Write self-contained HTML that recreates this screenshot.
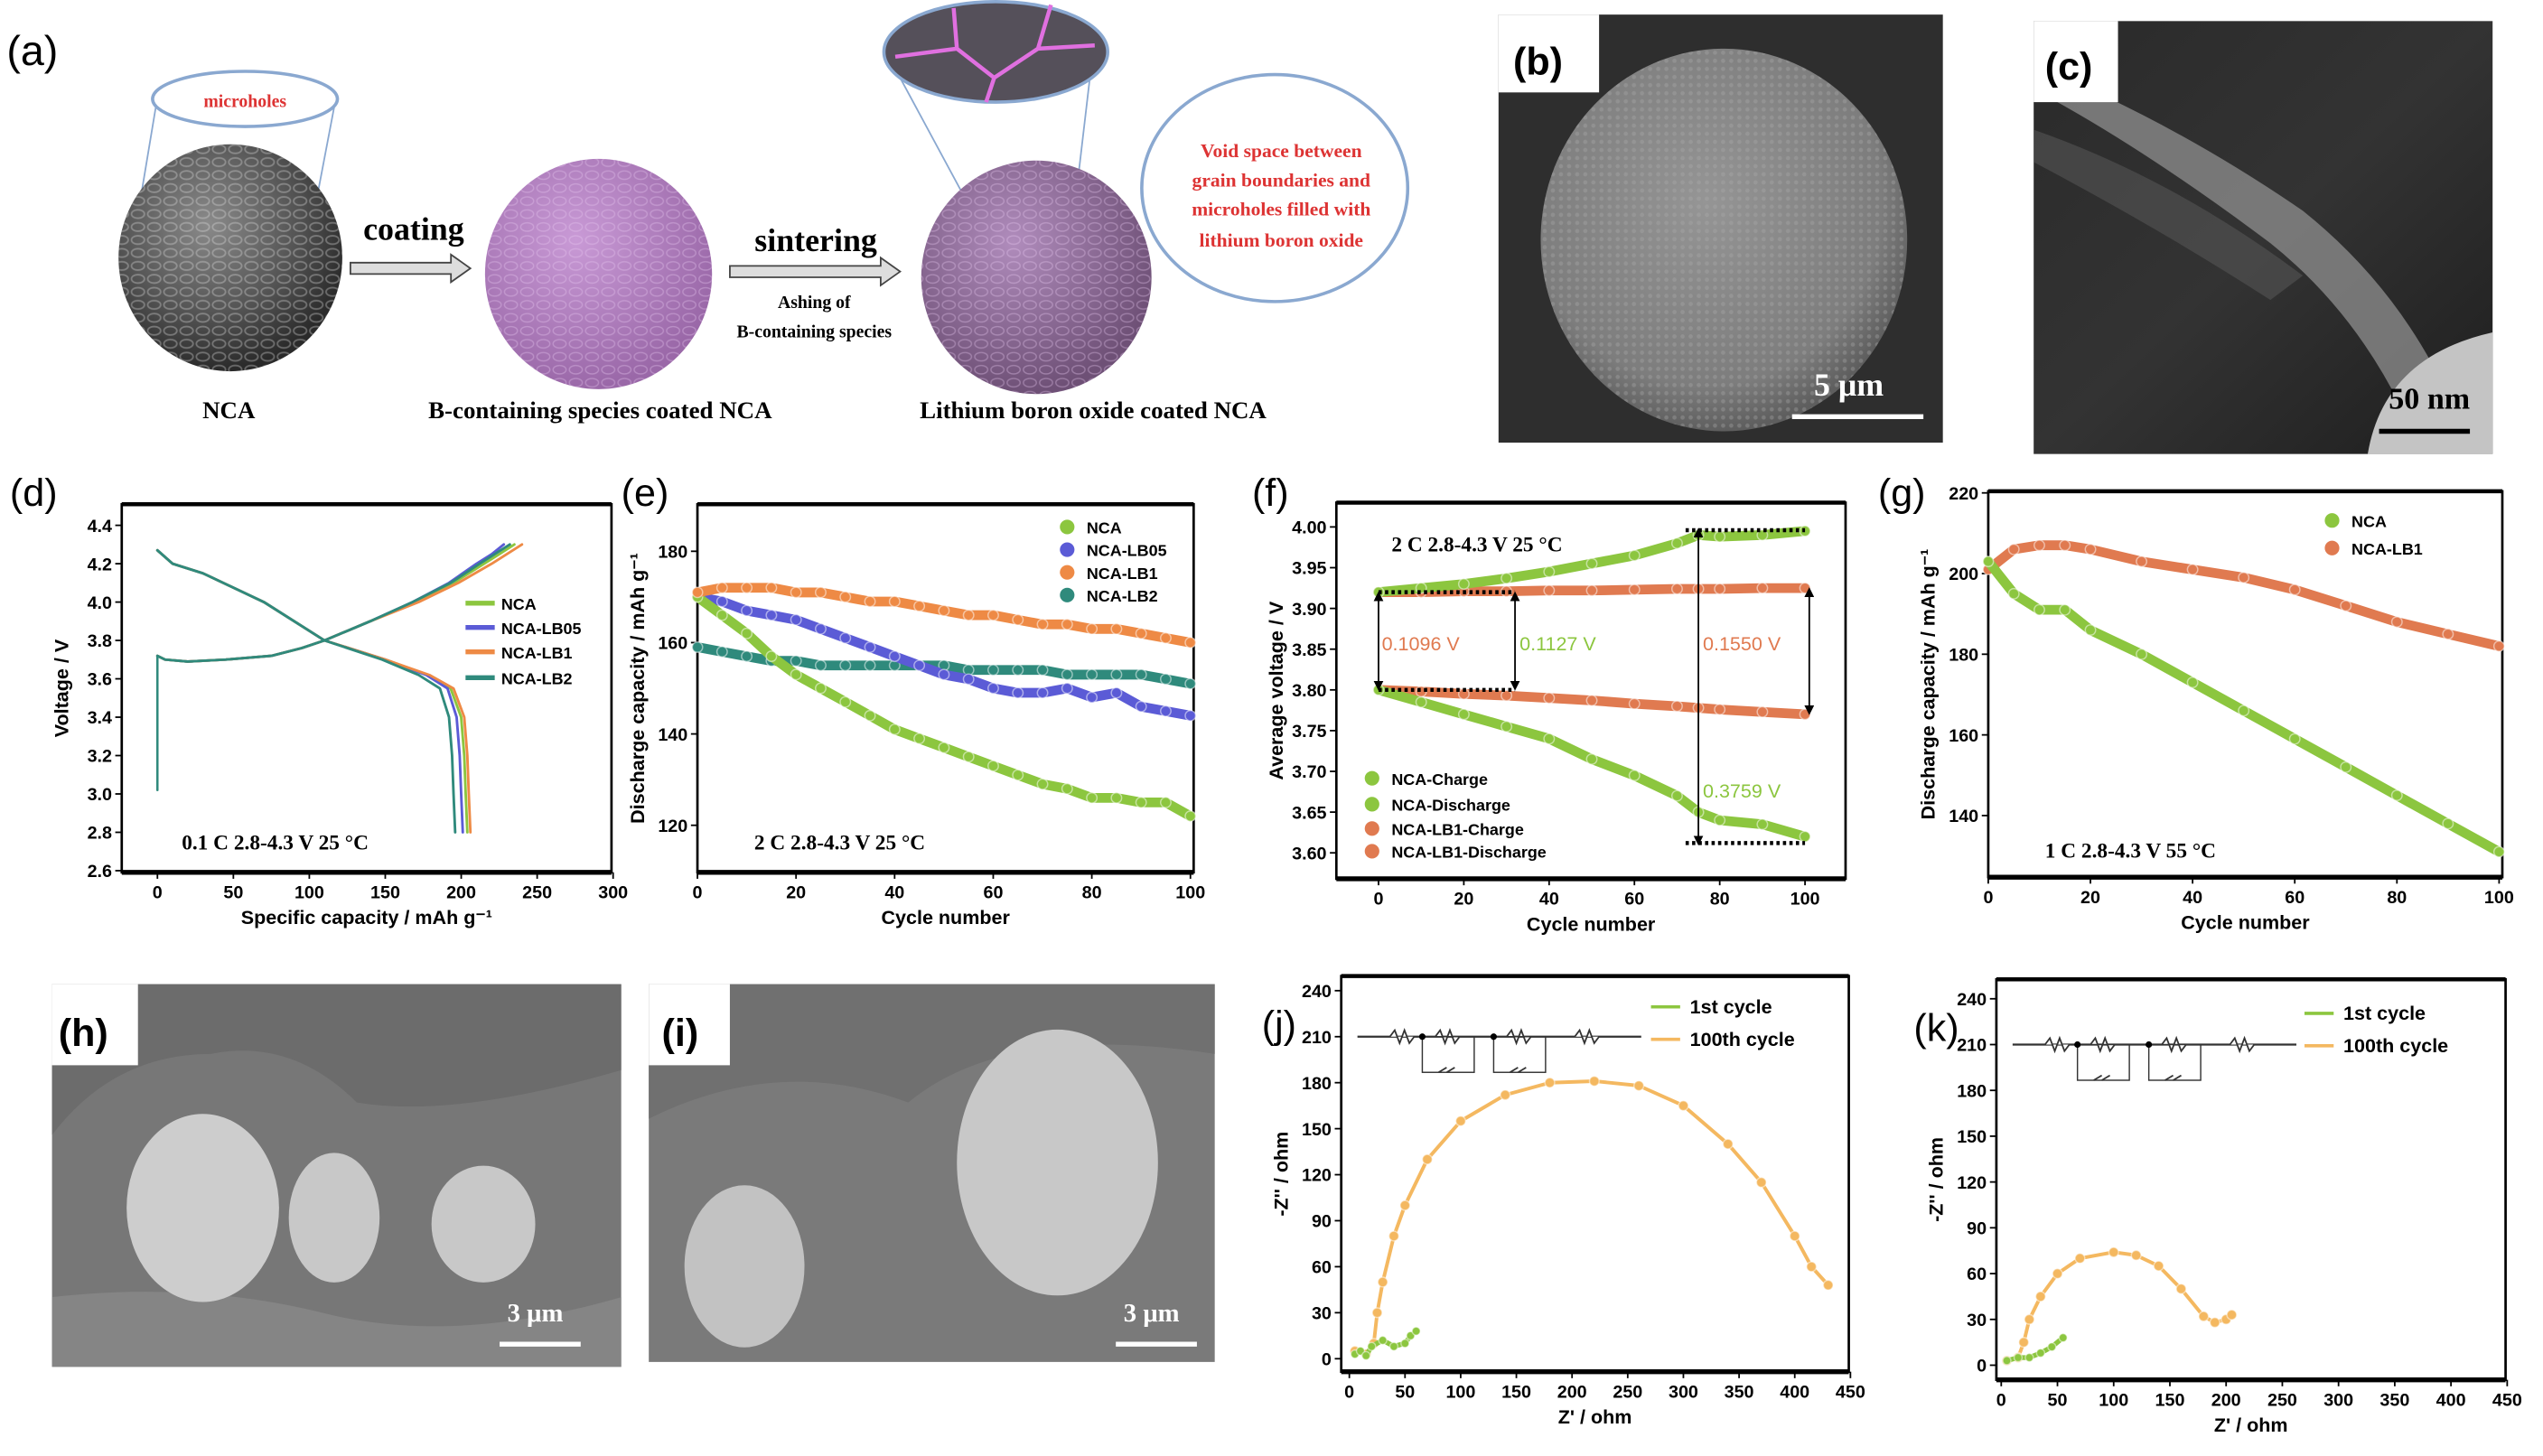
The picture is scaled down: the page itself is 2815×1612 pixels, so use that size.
<!DOCTYPE html>
<html><head><meta charset="utf-8"><style>
html,body{margin:0;padding:0;background:#fff;overflow:hidden}
svg{display:block}
text{font-family:"Liberation Sans",sans-serif}
.serif,.serif text{font-family:"Liberation Serif",serif}
</style></head><body>
<svg id="fig" xmlns="http://www.w3.org/2000/svg" width="2815" height="1612" viewBox="0 0 1568 898">
<defs>
<radialGradient id="gNCA" cx="40%" cy="35%" r="65%"><stop offset="0" stop-color="#8a8a8a"/><stop offset="0.6" stop-color="#555"/><stop offset="1" stop-color="#2a2a2a"/></radialGradient>
<radialGradient id="gPink" cx="40%" cy="35%" r="65%"><stop offset="0" stop-color="#c99ad6"/><stop offset="1" stop-color="#9a68a8"/></radialGradient>
<radialGradient id="gLBO" cx="40%" cy="35%" r="65%"><stop offset="0" stop-color="#b08cbc"/><stop offset="1" stop-color="#6e5076"/></radialGradient>
<radialGradient id="gSEM" cx="45%" cy="40%" r="60%"><stop offset="0" stop-color="#959595"/><stop offset="0.8" stop-color="#7d7d7d"/><stop offset="1" stop-color="#5e5e5e"/></radialGradient>
<pattern id="grain" width="10" height="8" patternUnits="userSpaceOnUse"><ellipse cx="5" cy="4" rx="4" ry="2.6" fill="none" stroke="#ddd" stroke-opacity="0.35" stroke-width="1"/></pattern>
<pattern id="grainP" width="10" height="8" patternUnits="userSpaceOnUse"><ellipse cx="5" cy="4" rx="4" ry="2.6" fill="none" stroke="#e8c8f0" stroke-opacity="0.35" stroke-width="0.8"/></pattern>
<pattern id="dots" width="5" height="5" patternUnits="userSpaceOnUse"><circle cx="2.5" cy="2.5" r="1.3" fill="#aaa" fill-opacity="0.35"/></pattern>
<linearGradient id="gTEM" x1="0" y1="0" x2="1" y2="1"><stop offset="0" stop-color="#2a2a2a"/><stop offset="0.5" stop-color="#333"/><stop offset="1" stop-color="#1e1e1e"/></linearGradient>
<marker id="ah" markerWidth="6" markerHeight="6" refX="3" refY="3" orient="auto-start-reverse"><path d="M0,0 L6,3 L0,6 z" fill="#000"/></marker>
</defs>

<g>
<text x="4" y="40" font-size="26">(a)</text>
<line x1="96" y1="66" x2="82" y2="150" stroke="#8aa8d0"/><line x1="206" y1="66" x2="190" y2="150" stroke="#8aa8d0"/>
<ellipse cx="142" cy="159" rx="69" ry="70" fill="url(#gNCA)"/>
<ellipse cx="142" cy="159" rx="69" ry="70" fill="url(#grain)"/>
<ellipse cx="151" cy="61" rx="57" ry="17" fill="#fff" stroke="#8aa8d0" stroke-width="2"/>
<text x="151" y="66" font-size="11" fill="#d33" text-anchor="middle" class="serif" font-weight="bold">microholes</text>
<text x="255" y="148" font-size="20" font-weight="bold" class="serif" text-anchor="middle">coating</text>
<path d="M216,162 h62 v-5 l12,8.5 l-12,8.5 v-5 h-62 z" fill="#ddd" stroke="#444"/>
<ellipse cx="369" cy="169" rx="70" ry="71" fill="url(#gPink)"/>
<ellipse cx="369" cy="169" rx="70" ry="71" fill="url(#grainP)"/>
<text x="503" y="155" font-size="20" font-weight="bold" class="serif" text-anchor="middle">sintering</text>
<path d="M450,164 h93 v-5 l12,8.5 l-12,8.5 v-5 h-93 z" fill="#ddd" stroke="#444"/>
<text x="502" y="190" font-size="11" font-weight="bold" class="serif" text-anchor="middle">Ashing of</text>
<text x="502" y="208" font-size="11" font-weight="bold" class="serif" text-anchor="middle">B-containing species</text>
<line x1="555" y1="48" x2="610" y2="150" stroke="#8aa8d0"/><line x1="672" y1="48" x2="660" y2="150" stroke="#8aa8d0"/>
<ellipse cx="639" cy="171" rx="71" ry="72" fill="url(#gLBO)"/>
<ellipse cx="639" cy="171" rx="71" ry="72" fill="url(#grainP)"/>
<ellipse cx="614" cy="32" rx="69" ry="31" fill="#55505a" stroke="#8aa8d0" stroke-width="2"/>
<path d="M552,35 L590,30 L613,48 L640,30 L675,28 M613,48 L608,63 M590,30 L588,5 M640,30 L648,3" stroke="#e070e0" stroke-width="2.5" fill="none"/>
<ellipse cx="786" cy="116" rx="82" ry="70" fill="#fff" stroke="#8aa8d0" stroke-width="2"/>
<g class="serif" font-size="12" fill="#d33" font-weight="bold" text-anchor="middle">
<text x="790" y="97">Void space between</text><text x="790" y="115">grain boundaries and</text><text x="790" y="133">microholes filled with</text><text x="790" y="152">lithium boron oxide</text></g>
<g class="serif" font-size="15" font-weight="bold" text-anchor="middle">
<text x="141" y="258">NCA</text>
<text x="370" y="258">B-containing species coated NCA</text>
<text x="674" y="258">Lithium boron oxide coated NCA</text></g>
</g>

<g>
<rect x="924" y="9" width="274" height="264" fill="#2e2e2e"/>
<ellipse cx="1063" cy="148" rx="113" ry="118" fill="url(#gSEM)"/>
<ellipse cx="1063" cy="148" rx="113" ry="118" fill="url(#dots)"/>
<rect x="924" y="9" width="62" height="48" fill="#fff"/>
<text x="933" y="46" font-size="24" font-weight="bold">(b)</text>
<text x="1140" y="244" font-size="20" fill="#fff" font-weight="bold" class="serif" text-anchor="middle">5 μm</text>
<line x1="1105" y1="257" x2="1186" y2="257" stroke="#fff" stroke-width="3"/>
</g>

<g>
<rect x="1254" y="13" width="283" height="267" fill="url(#gTEM)"/>
<path d="M1254,55 Q1320,90 1400,150 Q1450,190 1480,250 L1500,225 Q1470,170 1420,130 Q1340,75 1254,40 z" fill="#8a8a8a" opacity="0.8"/>
<path d="M1254,100 Q1330,140 1400,185 L1420,170 Q1340,110 1254,80 z" fill="#555" opacity="0.6"/>
<path d="M1460,280 Q1470,220 1537,205 L1537,280 z" fill="#c4c4c4"/>
<rect x="1254" y="13" width="52" height="50" fill="#fff"/>
<text x="1261" y="49" font-size="24" font-weight="bold">(c)</text>
<text x="1498" y="252" font-size="19" font-weight="bold" class="serif" text-anchor="middle">50 nm</text>
<line x1="1467" y1="266" x2="1523" y2="266" stroke="#000" stroke-width="3"/>
</g>

<g>
<rect x="32" y="607" width="351" height="236" fill="#777"/>
<path d="M32,700 Q70,650 130,650 Q180,640 220,680 Q280,690 383,660 L383,607 L32,607 z" fill="#6c6c6c"/>
<path d="M32,800 Q120,790 200,810 T383,800 L383,843 L32,843 z" fill="#858585"/>
<ellipse cx="125" cy="745" rx="47" ry="58" fill="#cdcdcd"/>
<ellipse cx="206" cy="751" rx="28" ry="40" fill="#c8c8c8"/>
<ellipse cx="298" cy="755" rx="32" ry="36" fill="#c8c8c8"/>
<rect x="32" y="607" width="53" height="50" fill="#fff"/>
<text x="36" y="645" font-size="24" font-weight="bold">(h)</text>
<text x="330" y="815" font-size="16" fill="#fff" font-weight="bold" class="serif" text-anchor="middle">3 μm</text>
<line x1="308" y1="829" x2="358" y2="829" stroke="#fff" stroke-width="3"/>
</g>
<g>
<rect x="400" y="607" width="349" height="233" fill="#7a7a7a"/>
<path d="M400,690 Q480,650 560,680 Q620,630 749,650 L749,607 L400,607 z" fill="#707070"/>
<ellipse cx="652" cy="717" rx="62" ry="82" fill="#c8c8c8"/>
<ellipse cx="459" cy="781" rx="37" ry="50" fill="#c2c2c2"/>
<rect x="400" y="607" width="50" height="50" fill="#fff"/>
<text x="408" y="645" font-size="24" font-weight="bold">(i)</text>
<text x="710" y="815" font-size="16" fill="#fff" font-weight="bold" class="serif" text-anchor="middle">3 μm</text>
<line x1="688" y1="829" x2="738" y2="829" stroke="#fff" stroke-width="3"/>
</g>

<g id="charts"></g>
</svg>
<script>
// ---------- data ----------
const dChgV = [3.72,3.70,3.69,3.70,3.72,3.76,3.80,3.90,4.00,4.10,4.20,4.25,4.30];
const dNCAchgCap  = [0,5,20,45,75,95,110,140,170,195,215,225,235];
const dLB05chgCap = [0,5,20,45,75,95,110,140,168,192,210,220,228];
const dLB1chgCap  = [0,5,20,45,75,95,110,140,172,198,220,230,240];
const dLB2chgCap  = [0,5,20,45,75,95,110,140,168,193,212,222,232];
const dDisV = [4.27,4.20,4.15,4.00,3.80,3.70,3.62,3.55,3.40,3.20,3.00,2.80];
const dNCAdisCap  = [0,10,30,70,110,150,178,193,200,202,203,204];
const dLB05disCap = [0,10,30,70,110,150,177,191,197,199,200,201];
const dLB1disCap  = [0,10,30,70,110,150,179,195,202,204,205,206];
const dLB2disCap  = [0,10,30,70,110,148,172,186,192,194,195,196];
const dLowV = [3.02,3.72];
const eCycles = [0,5,10,15,20,25,30,35,40,45,50,55,60,65,70,75,80,85,90,95,100];
const eNCA  = [170,166,162,157,153,150,147,144,141,139,137,135,133,131,129,128,126,126,125,125,122];
const eLB05 = [170,169,167,166,165,163,161,159,157,155,153,152,150,149,149,150,148,149,146,145,144];
const eLB1  = [171,172,172,172,171,171,170,169,169,168,167,166,166,165,164,164,163,163,162,161,160];
const eLB2  = [159,158,157,156,156,155,155,155,155,155,155,154,154,154,154,153,153,153,153,152,151];
const fCycles = [0,10,20,30,40,50,60,70,75,80,90,100];
const fNCAchg = [3.920,3.925,3.930,3.937,3.945,3.955,3.965,3.980,3.990,3.988,3.990,3.995];
const fNCAdis = [3.800,3.785,3.770,3.755,3.740,3.715,3.695,3.670,3.650,3.640,3.635,3.620];
const fLBchg  = [3.920,3.920,3.921,3.921,3.922,3.922,3.923,3.924,3.924,3.924,3.925,3.925];
const fLBdis  = [3.800,3.798,3.795,3.793,3.790,3.787,3.783,3.780,3.778,3.776,3.773,3.770];
const gCycles = [0,5,10,15,20,30,40,50,60,70,80,90,100];
const gNCA = [203,195,191,191,186,180,173,166,159,152,145,138,131];
const gLB1 = [201,206,207,207,206,203,201,199,196,192,188,185,182];
const jCyc1Re = [5,10,15,20,30,40,50,55,60];
const jCyc1Im = [3,5,2,8,12,8,10,15,18];
const jCyc100Re = [5,15,22,25,30,40,50,70,100,140,180,220,260,300,340,370,400,415,430];
const jCyc100Im = [5,3,10,30,50,80,100,130,155,172,180,181,178,165,140,115,80,60,48];
const kCyc1Re = [5,15,25,35,45,55];
const kCyc1Im = [3,5,5,8,12,18];
const kCyc100Re = [5,15,20,25,35,50,70,100,120,140,160,180,190,200,205];
const kCyc100Im = [3,5,15,30,45,60,70,74,72,65,50,32,28,30,33];
const C = {nca:'#8cc63f', lb05:'#5b5bd6', lb1:'#ee8a45', lb2:'#2f8a7c', lbo:'#e07a50', yel:'#f4b860'};

const NS='http://www.w3.org/2000/svg';
const root=document.getElementById('charts');
function el(tag,attrs,parent){const e=document.createElementNS(NS,tag);for(const k in attrs)e.setAttribute(k,attrs[k]);(parent||root).appendChild(e);return e;}
function txt(x,y,s,attrs,parent){const t=el('text',Object.assign({x:x,y:y,'font-size':11,'text-anchor':'middle'},attrs||{}),parent);t.textContent=s;return t;}
function lin(d0,d1,p0,p1){return v=>p0+(v-d0)*(p1-p0)/(d1-d0);}

function axesFrame(g,box,xs,xticks,xfmt,ys,yticks,yfmt,xtitle,ytitle){
  const fr=el('rect',{x:box[0],y:box[1],width:box[2]-box[0],height:box[3]-box[1],fill:'#fff',stroke:'#000','stroke-width':1.5},g);
  
  
  el('line',{x1:box[0],y1:box[3],x2:box[2],y2:box[3],stroke:'#000','stroke-width':3},g);
  el('line',{x1:box[0],y1:box[1],x2:box[2],y2:box[1],stroke:'#000','stroke-width':2.5},g);
  xticks.forEach(v=>{const x=xs(v);el('line',{x1:x,y1:box[3],x2:x,y2:box[3]+4,stroke:'#000'},g);
    const t=txt(x,box[3]+16,xfmt(v),{'font-weight':'bold'},g);
    
    });
  yticks.forEach(v=>{const y=ys(v);el('line',{x1:box[0]-4,y1:y,x2:box[0],y2:y,stroke:'#000'},g);
    const t=txt(box[0]-6,y+4,yfmt(v),{'text-anchor':'end','font-weight':'bold'},g);
    
    });
  const xt=txt((box[0]+box[2])/2,box[3]+32,xtitle,{'font-size':12,'font-weight':'bold'},g);
  
  
  const yx=box[0]-33, yy=(box[1]+box[3])/2;
  const yt=txt(yx,yy,ytitle,{'font-size':12,'font-weight':'bold',transform:`rotate(-90 ${yx} ${yy})`},g);
  
  
}
function series(g,xs,ys,X,Y,color,w,name,markers){
  const pts=X.map((v,i)=>xs(v).toFixed(1)+','+ys(Y[i]).toFixed(1)).join(' ');
  const p=el('polyline',{points:pts,fill:'none',stroke:color,'stroke-width':w,'stroke-linejoin':'round','stroke-linecap':'round'},g);
  
  
  if(markers){X.forEach((v,i)=>{const c=el('circle',{cx:xs(v),cy:ys(Y[i]),r:markers,fill:color,stroke:'#fff','stroke-opacity':0.5,'stroke-width':0.8},g);
    
    });}
}
function legendItem(g,x,y,color,label,circle){
  if(circle){const c=el('circle',{cx:x+8,cy:y-4,r:4.5,fill:color},g);
    
    }
  else{const l=el('line',{x1:x,y1:y-4,x2:x+18,y2:y-4,stroke:color,'stroke-width':3},g);
    
    }
  const t=txt(x+(circle?20:22),y,label,{'text-anchor':'start','font-size':10,'font-weight':'bold'},g);
  
  
}
function panelLabel(x,y,s){const t=txt(x,y,s,{'font-size':24,'text-anchor':'start'});
  
  }
function condText(g,x,y,s){const t=txt(x,y,s,{'font-size':13,'font-weight':'bold','text-anchor':'start','class':'serif'},g);
  
  }

// ---- (d)
{const g=el('g',{});
 const xs=lin(0,300,97,378), ys=lin(2.6,4.4,537,324);
 axesFrame(g,[75,311,377,538],xs,[0,50,100,150,200,250,300],v=>v,ys,[2.6,2.8,3.0,3.2,3.4,3.6,3.8,4.0,4.2,4.4],v=>v.toFixed(1),'Specific capacity / mAh g\u207B\u00B9','Voltage / V');
 const sets=[[dNCAchgCap,dNCAdisCap,C.nca,'nca'],[dLB05chgCap,dLB05disCap,C.lb05,'lb05'],[dLB1chgCap,dLB1disCap,C.lb1,'lb1'],[dLB2chgCap,dLB2disCap,C.lb2,'lb2']];
 sets.forEach(s=>{series(g,xs,ys,s[0],dChgV,s[2],1.6,'charge-curve-'+s[3]);series(g,xs,ys,s[1],dDisV,s[2],1.6,'discharge-curve-'+s[3]);});
 series(g,xs,ys,[0,0],dLowV,C.lb2,1.4,'initial-rest-line');
 legendItem(g,287,376,C.nca,'NCA');legendItem(g,287,391,C.lb05,'NCA-LB05');legendItem(g,287,406,C.lb1,'NCA-LB1');legendItem(g,287,422,C.lb2,'NCA-LB2');
 condText(g,112,524,'0.1 C   2.8-4.3 V   25 \u00B0C');
 panelLabel(6,312,'(d)');}
// ---- (e)
{const g=el('g',{});
 const xs=lin(0,100,430,734), ys=lin(120,180,509,340);
 axesFrame(g,[430,311,736,538],xs,[0,20,40,60,80,100],v=>v,ys,[120,140,160,180],v=>v,'Cycle number','Discharge capacity / mAh g\u207B\u00B9');
 [[eLB2,C.lb2,'lb2'],[eLB05,C.lb05,'lb05'],[eNCA,C.nca,'nca'],[eLB1,C.lb1,'lb1']].forEach(s=>series(g,xs,ys,eCycles,s[0],s[1],6,'capacity-'+s[2],3.2));
 legendItem(g,650,329,C.nca,'NCA',1);legendItem(g,650,343,C.lb05,'NCA-LB05',1);legendItem(g,650,357,C.lb1,'NCA-LB1',1);legendItem(g,650,371,C.lb2,'NCA-LB2',1);
 condText(g,465,524,'2 C   2.8-4.3 V   25 \u00B0C');
 panelLabel(383,312,'(e)');}
// ---- (f)
{const g=el('g',{});
 const xs=lin(0,100,850,1113), ys=lin(3.60,4.00,526,325);
 axesFrame(g,[824,310,1138,542],xs,[0,20,40,60,80,100],v=>v,ys,[3.60,3.65,3.70,3.75,3.80,3.85,3.90,3.95,4.00],v=>v.toFixed(2),'Cycle number','Average voltage / V');
 [[fLBchg,C.lbo,'lb1-charge'],[fLBdis,C.lbo,'lb1-discharge'],[fNCAchg,C.nca,'nca-charge'],[fNCAdis,C.nca,'nca-discharge']].forEach(s=>series(g,xs,ys,fCycles,s[0],s[1],6,'avg-voltage-'+s[2],3.2));
 const dash=(x1,x2,v)=>el('line',{x1:xs(x1),x2:xs(x2),y1:ys(v),y2:ys(v),stroke:'#000','stroke-width':2.5,'stroke-dasharray':'2 2'},g);
 dash(0,32,3.920);dash(0,32,3.800);dash(72,100,3.996);dash(72,100,3.612);
 const arr=(x,v1,v2)=>el('line',{x1:xs(x),x2:xs(x),y1:ys(v1),y2:ys(v2),stroke:'#000','stroke-width':1,'marker-start':'url(#ah)','marker-end':'url(#ah)'},g);
 arr(0,3.915,3.805);arr(32,3.915,3.805);arr(101,3.92,3.775);arr(75,3.993,3.615);
 const vl=(x,y,s,c)=>{const t=txt(x,y,s,{'font-size':12,fill:c,'text-anchor':'start'},g);};
 vl(852,401,'0.1096 V',C.lbo);vl(937,401,'0.1127 V',C.nca);vl(1050,401,'0.1550 V',C.lbo);vl(1050,492,'0.3759 V',C.nca);
 legendItem(g,838,484,C.nca,'NCA-Charge',1);legendItem(g,838,500,C.nca,'NCA-Discharge',1);legendItem(g,838,515,C.lbo,'NCA-LB1-Charge',1);legendItem(g,838,529,C.lbo,'NCA-LB1-Discharge',1);
 condText(g,858,340,'2 C   2.8-4.3 V   25 \u00B0C');
 panelLabel(772,312,'(f)');}
// ---- (g)
{const g=el('g',{});
 const xs=lin(0,100,1226,1541), ys=lin(140,220,503,304);
 axesFrame(g,[1226,303,1543,541],xs,[0,20,40,60,80,100],v=>v,ys,[140,160,180,200,220],v=>v,'Cycle number','Discharge capacity / mAh g\u207B\u00B9');
 series(g,xs,ys,gCycles,gLB1,C.lbo,6,'capacity-lb1',3.2);
 series(g,xs,ys,gCycles,gNCA,C.nca,6,'capacity-nca',3.2);
 legendItem(g,1430,325,C.nca,'NCA',1);legendItem(g,1430,342,C.lbo,'NCA-LB1',1);
 condText(g,1261,529,'1 C   2.8-4.3 V   55 \u00B0C');
 panelLabel(1158,312,'(g)');}
// ---- EIS
function circuit(g,x,y){
  el('line',{x1:x,y1:y,x2:x+175,y2:y,stroke:'#333','stroke-width':1.2},g);
  [[x+20],[x+48],[x+92],[x+134]].forEach(a=>el('path',{d:`M${a[0]},${y} l3,-4 l3,8 l3,-8 l3,8 l3,-4`,fill:'#fff',stroke:'#333'},g));
  [[x+40,x+72],[x+84,x+116]].forEach(b=>{el('rect',{x:b[0],y:y,width:b[1]-b[0],height:22,fill:'none',stroke:'#333','stroke-width':0.8},g);
    el('circle',{cx:b[0],cy:y,r:2,fill:'#000'},g);
    el('path',{d:`M${b[0]+10},${y+22} l5,-3 m0,3 l5,-3`,stroke:'#333',fill:'none'},g);});
}
function eis(name,box,xs,ys,r1,i1,r100,i100,lx,ly,label,lpx,lpy){
  const g=el('g',{});
  axesFrame(g,box,xs,[0,50,100,150,200,250,300,350,400,450],v=>v,ys,[0,30,60,90,120,150,180,210,240],v=>v,"Z' / ohm","-Z'' / ohm");
  series(g,xs,ys,r100,i100,C.yel,2.2,'nyquist-100th-cycle',3);
  series(g,xs,ys,r1,i1,C.nca,3,'nyquist-1st-cycle',2.5);
  circuit(g,box[0]+10,ys(210));
  el('line',{x1:lx,y1:ly-4,x2:lx+18,y2:ly-4,stroke:C.nca,'stroke-width':2},g);
  el('line',{x1:lx,y1:ly+16,x2:lx+18,y2:ly+16,stroke:C.yel,'stroke-width':2},g);
  const a=txt(lx+24,ly,'1st cycle',{'text-anchor':'start','font-size':12,'font-weight':'bold'},g);
  
  
  const b=txt(lx+24,ly+20,'100th cycle',{'text-anchor':'start','font-size':12,'font-weight':'bold'},g);
  
  
  panelLabel(lpx,lpy,label);
}
eis('panel-j-eis',[827,602,1140,846],lin(0,450,832,1141),lin(0,240,838,611),jCyc1Re,jCyc1Im,jCyc100Re,jCyc100Im,1018,625,'(j)',778,640);
eis('panel-k-eis',[1231,604,1545,851],lin(0,450,1234,1546),lin(0,240,842,616),kCyc1Re,kCyc1Im,kCyc100Re,kCyc100Im,1421,629,'(k)',1180,642);
</script>
</body></html>
